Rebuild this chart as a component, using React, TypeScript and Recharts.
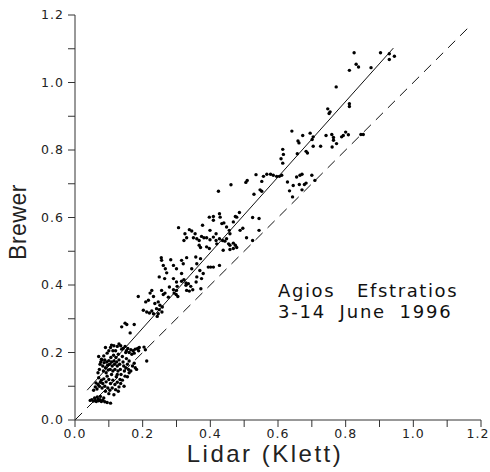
import React from 'react';
import { ScatterChart, Scatter, XAxis, YAxis, ReferenceLine, Label } from 'recharts';

// lidar (Klett) vs brewer
const lowCluster: [number, number][] = [
  [0.045, 0.058], [0.05, 0.06], [0.055, 0.056], [0.06, 0.058], [0.063, 0.055], [0.068, 0.062],
  [0.07, 0.057], [0.074, 0.06], [0.078, 0.055], [0.082, 0.058], [0.088, 0.054], [0.095, 0.052],
  [0.105, 0.05], [0.058, 0.065], [0.066, 0.068], [0.075, 0.07], [0.085, 0.065], [0.055, 0.088],
  [0.06, 0.098], [0.065, 0.092], [0.062, 0.11], [0.068, 0.105], [0.072, 0.1], [0.075, 0.112],
  [0.07, 0.125], [0.078, 0.118], [0.08, 0.095], [0.082, 0.108], [0.085, 0.122], [0.088, 0.1],
  [0.09, 0.085], [0.092, 0.113], [0.095, 0.13], [0.097, 0.095], [0.1, 0.12], [0.1, 0.078],
  [0.103, 0.088], [0.105, 0.108], [0.108, 0.135], [0.11, 0.095], [0.112, 0.118], [0.115, 0.075],
  [0.118, 0.105], [0.12, 0.09], [0.122, 0.128], [0.125, 0.112], [0.128, 0.085], [0.13, 0.098],
  [0.133, 0.12], [0.135, 0.108], [0.068, 0.14], [0.072, 0.15], [0.074, 0.165], [0.076, 0.172],
  [0.08, 0.178], [0.082, 0.16], [0.084, 0.145], [0.086, 0.17], [0.088, 0.178], [0.09, 0.155],
  [0.092, 0.14], [0.094, 0.172], [0.096, 0.162], [0.098, 0.148], [0.1, 0.176], [0.102, 0.165],
  [0.104, 0.15], [0.106, 0.185], [0.108, 0.172], [0.11, 0.16], [0.112, 0.145], [0.114, 0.192],
  [0.115, 0.175], [0.117, 0.165], [0.118, 0.15], [0.12, 0.205], [0.121, 0.185], [0.123, 0.172],
  [0.125, 0.16], [0.127, 0.145], [0.128, 0.195], [0.13, 0.178], [0.132, 0.165], [0.134, 0.15],
  [0.136, 0.135], [0.138, 0.21], [0.14, 0.188], [0.142, 0.172], [0.144, 0.16], [0.146, 0.145],
  [0.148, 0.13], [0.15, 0.2], [0.152, 0.182], [0.155, 0.165], [0.158, 0.15], [0.16, 0.14],
  [0.105, 0.215], [0.108, 0.222], [0.112, 0.205], [0.115, 0.22], [0.125, 0.218], [0.13, 0.225],
  [0.135, 0.22], [0.142, 0.212], [0.148, 0.218], [0.152, 0.205], [0.156, 0.212], [0.16, 0.2],
  [0.165, 0.208], [0.168, 0.195], [0.172, 0.205], [0.175, 0.198], [0.178, 0.21], [0.185, 0.212],
  [0.188, 0.205], [0.19, 0.215], [0.17, 0.16], [0.175, 0.168], [0.178, 0.155], [0.182, 0.15],
  [0.165, 0.145], [0.155, 0.128], [0.14, 0.118], [0.145, 0.1], [0.125, 0.135], [0.085, 0.19],
  [0.095, 0.198], [0.1, 0.205], [0.09, 0.215], [0.07, 0.188], [0.078, 0.18], [0.16, 0.175],
  [0.15, 0.155], [0.212, 0.175], [0.204, 0.216], [0.208, 0.208], [0.148, 0.287], [0.153, 0.283],
  [0.138, 0.276], [0.163, 0.258], [0.175, 0.283], [0.187, 0.366],
];

const midCluster: [number, number][] = [
  [0.209, 0.35], [0.217, 0.355], [0.202, 0.325], [0.212, 0.32], [0.22, 0.317], [0.227, 0.323],
  [0.232, 0.315], [0.236, 0.345], [0.246, 0.35], [0.251, 0.34], [0.258, 0.335], [0.241, 0.33],
  [0.249, 0.327], [0.246, 0.315], [0.257, 0.32], [0.243, 0.307], [0.227, 0.384], [0.232, 0.366],
  [0.222, 0.376], [0.256, 0.384], [0.261, 0.372], [0.266, 0.376], [0.276, 0.364], [0.279, 0.394],
  [0.291, 0.386], [0.3, 0.384], [0.299, 0.372], [0.304, 0.366], [0.293, 0.376], [0.249, 0.424],
  [0.265, 0.419], [0.255, 0.481], [0.256, 0.473], [0.261, 0.458], [0.267, 0.448], [0.271, 0.436],
  [0.283, 0.475], [0.291, 0.458], [0.3, 0.448], [0.291, 0.419], [0.3, 0.409], [0.302, 0.396],
  [0.315, 0.411], [0.322, 0.416], [0.328, 0.406], [0.328, 0.399], [0.335, 0.404], [0.342, 0.396],
  [0.348, 0.386], [0.33, 0.384], [0.338, 0.382], [0.358, 0.409], [0.36, 0.424], [0.372, 0.389],
  [0.306, 0.57], [0.322, 0.532], [0.33, 0.54], [0.325, 0.552], [0.338, 0.564], [0.345, 0.56],
  [0.355, 0.552], [0.35, 0.54], [0.36, 0.537], [0.367, 0.532], [0.374, 0.544], [0.33, 0.481],
  [0.357, 0.483], [0.371, 0.478], [0.367, 0.518], [0.371, 0.511], [0.315, 0.473], [0.32, 0.463],
  [0.369, 0.443], [0.379, 0.434], [0.374, 0.419], [0.36, 0.463], [0.345, 0.448], [0.315, 0.434],
];

const upperMid: [number, number][] = [
  [0.397, 0.601], [0.409, 0.603], [0.427, 0.611], [0.429, 0.601], [0.409, 0.592], [0.377, 0.577],
  [0.399, 0.562], [0.417, 0.552], [0.434, 0.582], [0.44, 0.584], [0.448, 0.572], [0.456, 0.562],
  [0.458, 0.552], [0.468, 0.587], [0.478, 0.601], [0.486, 0.615], [0.474, 0.603], [0.389, 0.54],
  [0.399, 0.534], [0.409, 0.542], [0.417, 0.532], [0.427, 0.537], [0.419, 0.522], [0.381, 0.54],
  [0.389, 0.513], [0.397, 0.508], [0.394, 0.453], [0.401, 0.453], [0.409, 0.453], [0.427, 0.458],
  [0.436, 0.532], [0.443, 0.53], [0.448, 0.537], [0.454, 0.522], [0.458, 0.518], [0.468, 0.524],
  [0.474, 0.518], [0.468, 0.508], [0.458, 0.505], [0.438, 0.503], [0.478, 0.511], [0.424, 0.678],
  [0.461, 0.697], [0.496, 0.568], [0.507, 0.54], [0.525, 0.532], [0.544, 0.562], [0.525, 0.6],
  [0.544, 0.597], [0.505, 0.704], [0.509, 0.71], [0.535, 0.727], [0.529, 0.669], [0.557, 0.722],
  [0.567, 0.728], [0.578, 0.728], [0.586, 0.725], [0.596, 0.722], [0.604, 0.722], [0.611, 0.725],
  [0.552, 0.707], [0.547, 0.682], [0.552, 0.678], [0.488, 0.562],
];

const highCluster: [number, number][] = [
  [0.628, 0.705], [0.634, 0.679], [0.643, 0.661], [0.645, 0.695], [0.655, 0.72], [0.665, 0.725],
  [0.671, 0.728], [0.663, 0.698], [0.671, 0.682], [0.678, 0.698], [0.683, 0.702], [0.7, 0.725],
  [0.709, 0.71], [0.614, 0.802], [0.616, 0.787], [0.609, 0.774], [0.614, 0.761], [0.657, 0.789],
  [0.683, 0.796], [0.687, 0.791], [0.641, 0.856], [0.659, 0.827], [0.662, 0.821], [0.673, 0.843],
  [0.695, 0.85], [0.704, 0.839], [0.701, 0.831], [0.704, 0.811], [0.726, 0.811], [0.742, 0.843],
  [0.759, 0.846], [0.764, 0.837], [0.764, 0.829], [0.76, 0.809], [0.773, 0.819], [0.788, 0.839],
  [0.793, 0.843], [0.8, 0.853], [0.808, 0.845], [0.845, 0.846], [0.852, 0.846], [0.747, 0.922],
  [0.754, 0.913], [0.751, 0.908], [0.811, 0.937], [0.811, 0.929], [0.772, 0.987], [0.811, 1.036],
  [0.831, 1.054], [0.838, 1.046], [0.875, 1.044], [0.825, 1.088], [0.903, 1.088], [0.929, 1.085],
  [0.929, 1.068], [0.944, 1.078],
];

// linear fit drawn over the lidar range, and the 1:1 line
const fitSlope = 1.12;
const fitIntercept = 0.048;
const fitRange = [0.036, 0.941];
const oneToOneEnd = 1.17;

const axisTicks = [0, 0.1, 0.2, 0.3, 0.4, 0.5, 0.6, 0.7, 0.8, 0.9, 1.0, 1.1, 1.2];

const points = [...lowCluster, ...midCluster, ...upperMid, ...highCluster].map(([x, y]) => ({ x, y }));

const fmtTick = (v: number) => (Math.round(v * 10) % 2 === 0 ? v.toFixed(1) : '');

const tickStyle = { fontFamily: 'DejaVu Sans', fontSize: 12.5, fill: '#222', letterSpacing: 1 };

const Dot = (props: any) => <circle cx={props.cx} cy={props.cy} r={1.7} fill="#000" />;

// bottom tick labels; the last one is nudged in so it stays on the page
const XTick = ({ x, y, payload }: any) => (
  <text x={payload.value >= 1.2 ? x - 3 : x} y={y} dy="0.71em" textAnchor="middle" style={tickStyle}>
    {fmtTick(payload.value)}
  </text>
);

export default function App() {
  return (
    <div style={{ position: 'absolute', left: 0, top: 0, width: 490, height: 472, background: '#fff' }}>
      <ScatterChart width={490} height={472} margin={{ top: 15, right: 9, bottom: 0, left: 0 }}>
        <XAxis
          type="number"
          dataKey="x"
          domain={[0, 1.2]}
          ticks={axisTicks}
          height={52}
          tickSize={7}
          tickMargin={2}
          stroke="#333"
          tick={XTick}
          interval={0}
        >
          <Label
            content={() => (
              <text x={265} y={453} textAnchor="middle" dominantBaseline="central"
                style={{ fontFamily: 'Liberation Sans', fontSize: 24, letterSpacing: 2.5, fill: '#222' }}>
                Lidar (Klett)
              </text>
            )}
          />
        </XAxis>
        <YAxis
          type="number"
          dataKey="y"
          domain={[0, 1.2]}
          ticks={axisTicks}
          tickFormatter={fmtTick}
          width={75}
          tickSize={7}
          tickMargin={4}
          stroke="#333"
          tick={tickStyle}
          interval={0}
        >
          <Label
            content={() => (
              <text x={18} y={222} transform="rotate(-90 18 222)" textAnchor="middle" dominantBaseline="central"
                style={{ fontFamily: 'Liberation Sans', fontSize: 23, letterSpacing: 0.5, fill: '#222' }}>
                Brewer
              </text>
            )}
          />
        </YAxis>
        <ReferenceLine
          segment={[{ x: 0, y: 0 }, { x: oneToOneEnd, y: oneToOneEnd }]}
          stroke="#111"
          strokeDasharray="10 7"
        />
        <ReferenceLine
          segment={[
            { x: fitRange[0], y: fitIntercept + fitSlope * fitRange[0] },
            { x: fitRange[1], y: fitIntercept + fitSlope * fitRange[1] },
          ]}
          stroke="#111"
        />
        <Scatter data={points} shape={Dot} isAnimationActive={false} />
      </ScatterChart>
      <div
        style={{
          position: 'absolute', left: 278, top: 280, fontFamily: 'DejaVu Sans', fontSize: 18,
          lineHeight: '21px', whiteSpace: 'pre', color: '#111',
        }}
      >
        <div style={{ letterSpacing: 1.6 }}>{'Agios   Efstratios'}</div>
        <div style={{ letterSpacing: 1.8, wordSpacing: 6 }}>{'3-14 June 1996'}</div>
      </div>
    </div>
  );
}
